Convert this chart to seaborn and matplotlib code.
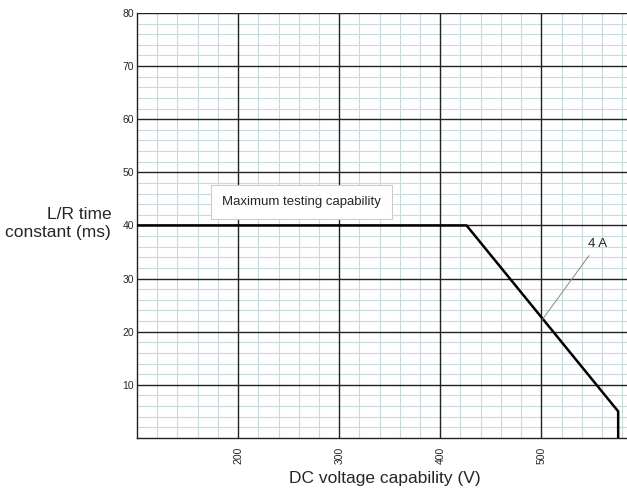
import numpy as np
import pandas as pd
import matplotlib
matplotlib.use("Agg")
import matplotlib.pyplot as plt
from matplotlib.ticker import FixedLocator
import seaborn as sns

# curve (4 A limit)
voltage = [100, 426, 576, 576]
lr_ms = [40, 40, 5, 0]
x_ticks = [200, 300, 400, 500]
y_ticks = [10, 20, 30, 40, 50, 60, 70, 80]

df = pd.DataFrame({"voltage": voltage, "lr": lr_ms})

sns.set_style("white")
plt.rcParams['font.family'] = ['Liberation Sans', 'DejaVu Sans']

fig = plt.figure(figsize=(6.27, 4.96), dpi=100)
ax = fig.add_axes([0.2185, 0.117, 0.79, 0.857])

sns.lineplot(data=df, x="voltage", y="lr", sort=False, estimator=None,
             color="black", linewidth=1.8, ax=ax, zorder=5)

ax.set_xlim(100, 590)
ax.set_ylim(0, 80)

# light minor grid, skipping the positions of the major lines
x_minor = [v for v in range(100, 600, 20) if v % 100 != 0]
y_minor = [v for v in range(0, 81, 2) if v % 10 != 0]
ax.xaxis.set_major_locator(FixedLocator(x_ticks))
ax.yaxis.set_major_locator(FixedLocator(y_ticks))
ax.xaxis.set_minor_locator(FixedLocator(x_minor))
ax.yaxis.set_minor_locator(FixedLocator(y_minor))
ax.grid(which="minor", color="#c9dadd", linewidth=0.8)
ax.grid(which="major", visible=False)
ax.set_axisbelow(True)

# dark major grid drawn above the light one
for xv in x_ticks:
    ax.axvline(xv, color="#222222", linewidth=1.0, zorder=1)
for yv in y_ticks:
    ax.axhline(yv, color="#222222", linewidth=1.0, zorder=1)

ax.tick_params(axis="x", which="both", labelrotation=90, labelsize=7.5, length=0, pad=6)
ax.tick_params(axis="y", which="both", labelsize=7.5, length=0, pad=2)

for s in ["top", "right"]:
    ax.spines[s].set_visible(False)
for s in ["left", "bottom"]:
    ax.spines[s].set_color("#222222")
    ax.spines[s].set_linewidth(1.0)

ax.set_xlabel("DC voltage capability (V)", fontsize=12.5, labelpad=5)
ax.set_ylabel("L/R time\nconstant (ms)", fontsize=12.5, rotation=0,
              ha="right", va="center")
ax.yaxis.set_label_coords(-0.052, 0.505)

ax.text(184, 44.4, "Maximum testing capability", fontsize=9.5,
        va="center", ha="left", zorder=6,
        bbox=dict(boxstyle="square,pad=0.85", facecolor="white",
                  edgecolor="#cccccc", linewidth=0.8))

ax.annotate("4 A", xy=(501, 22.3), xytext=(546, 36.5), fontsize=9.5,
            ha="left", va="center", zorder=6,
            arrowprops=dict(arrowstyle="-", color="#888888", linewidth=0.7,
                            shrinkA=2, shrinkB=0))

plt.savefig("out.png", dpi=100)
